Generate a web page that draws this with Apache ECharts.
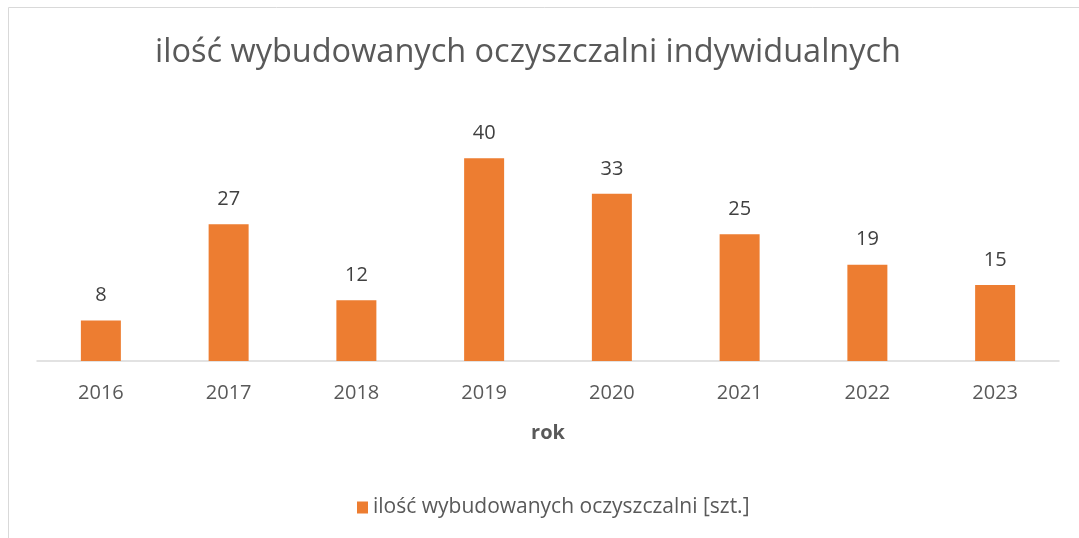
<!DOCTYPE html>
<html>
<head>
<meta charset="utf-8">
<script src="https://cdn.jsdelivr.net/npm/echarts@6/dist/echarts.min.js"></script>
<style>
  html, body { margin: 0; padding: 0; background: #fff; }
  #chart1 { width: 1079px; height: 538px; }
</style>
</head>
<body>
<div id="chart1"></div>
<script>
const years = ['2016', '2017', '2018', '2019', '2020', '2021', '2022', '2023'];
const counts = [8, 27, 12, 40, 33, 25, 19, 15];
const seriesName = 'ilość wybudowanych oczyszczalni [szt.]';
const chartTitle = 'ilość wybudowanych oczyszczalni indywidualnych';

const chartDom = document.getElementById('chart1');
const myChart = echarts.init(chartDom);
const font = '"Open Sans", "Noto Sans", sans-serif';

const option = {
    animation: false,
    textStyle: { fontFamily: font },
    graphic: [
        {
            type: 'rect',
            shape: { x: 8.5, y: 7.5, width: 1090, height: 560 },
            style: { fill: 'none', stroke: '#d9d9d9', lineWidth: 1 }
        }
    ],
    title: {
        text: chartTitle,
        left: 150,
        top: 31,
        textStyle: { fontSize: 32.5, fontWeight: 'normal', color: '#595959', fontFamily: font }
    },
    legend: {
        bottom: 15,
        left: 352,
        itemWidth: 11,
        itemHeight: 12,
        itemGap: 8,
        icon: 'rect',
        textStyle: { fontSize: 21, color: '#595959', fontFamily: font }
    },
    grid: { left: 37, right: 20, top: 133, bottom: 177 },
    xAxis: {
        type: 'category',
        data: years,
        name: 'rok',
        nameLocation: 'middle',
        nameGap: 62,
        nameTextStyle: { fontSize: 20, fontWeight: 'bold', color: '#595959', fontFamily: font },
        axisLine: { lineStyle: { color: '#d9d9d9', width: 1.5 } },
        axisTick: { show: false },
        axisLabel: { fontSize: 20, color: '#595959', margin: 22, fontFamily: font }
    },
    yAxis: {
        type: 'value',
        min: 0,
        max: 45,
        show: false,
        splitLine: { show: false }
    },
    series: [
        {
            name: seriesName,
            type: 'bar',
            data: counts,
            barWidth: 40,
            itemStyle: { color: '#ED7D31' },
            label: {
                show: true,
                position: 'top',
                distance: 15,
                fontSize: 20,
                color: '#404040',
                fontFamily: font
            }
        }
    ]
};

myChart.setOption(option);
</script>
</body>
</html>
